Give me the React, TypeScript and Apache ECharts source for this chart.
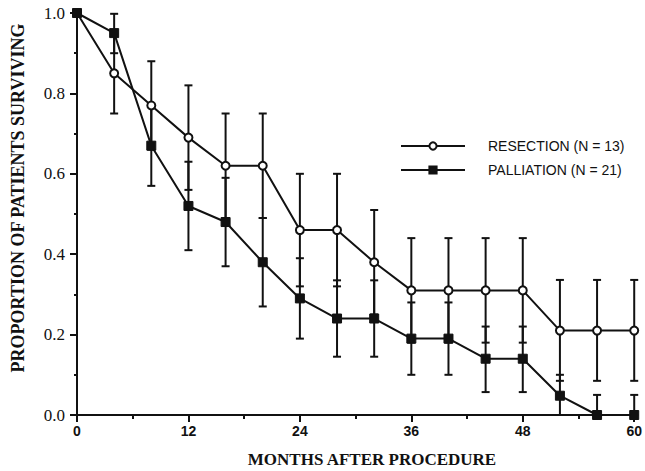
import React, { useEffect, useRef } from "react";
import * as echarts from "echarts";

const months = [0, 4, 8, 12, 16, 20, 24, 28, 32, 36, 40, 44, 48, 52, 56, 60];
const resection = [1.0, 0.85, 0.77, 0.69, 0.62, 0.62, 0.46, 0.46, 0.38, 0.31, 0.31, 0.31, 0.31, 0.21, 0.21, 0.21];
const resectionLow = [null, 0.75, 0.66, 0.56, 0.49, 0.49, 0.32, 0.32, 0.25, 0.18, 0.18, 0.18, 0.18, 0.085, 0.085, 0.085];
const resectionHigh = [null, 0.95, 0.88, 0.82, 0.75, 0.75, 0.6, 0.6, 0.51, 0.44, 0.44, 0.44, 0.44, 0.336, 0.336, 0.336];
const palliation = [1.0, 0.95, 0.67, 0.52, 0.48, 0.38, 0.29, 0.24, 0.24, 0.19, 0.19, 0.14, 0.14, 0.048, 0, 0];
const palliationLow = [null, 0.9, 0.57, 0.41, 0.37, 0.27, 0.19, 0.145, 0.145, 0.1, 0.1, 0.057, 0.057, 0, 0, 0];
const palliationHigh = [null, 0.998, 0.77, 0.63, 0.59, 0.49, 0.39, 0.335, 0.335, 0.28, 0.28, 0.22, 0.22, 0.1, 0.05, 0.05];
const xTicks = [0, 12, 24, 36, 48, 60];
const yTicks = [0, 0.2, 0.4, 0.6, 0.8, 1.0];
const xTitle = "MONTHS AFTER PROCEDURE";
const yTitle = "PROPORTION OF PATIENTS SURVIVING";
const legendNames = ["RESECTION (N = 13)", "PALLIATION (N = 21)"];

const INK = "#111";

function errData(low: (number | null)[], high: (number | null)[]) {
  const out: number[][] = [];
  months.forEach((m, i) => {
    if (low[i] != null && high[i] != null) out.push([m, low[i] as number, high[i] as number]);
  });
  return out;
}

function renderErr(params: any, api: any) {
  const x = api.value(0);
  const lo = api.coord([x, api.value(1)]);
  const hi = api.coord([x, api.value(2)]);
  const cap = 4;
  const style = { stroke: INK, lineWidth: 2 };
  return {
    type: "group",
    children: [
      { type: "line", shape: { x1: lo[0], y1: lo[1], x2: hi[0], y2: hi[1] }, style },
      { type: "line", shape: { x1: hi[0] - cap, y1: hi[1], x2: hi[0] + cap, y2: hi[1] }, style },
      { type: "line", shape: { x1: lo[0] - cap, y1: lo[1], x2: lo[0] + cap, y2: lo[1] }, style },
    ],
  };
}

export default function App() {
  const ref = useRef<HTMLDivElement>(null);
  useEffect(() => {
    if (!ref.current) return;
    const chart = echarts.init(ref.current, undefined, { renderer: "svg" });
    chart.setOption({
      animation: false,
      backgroundColor: "#fff",
      grid: { left: 77, right: 8, top: 13, bottom: 56 },
      legend: {
        orient: "vertical",
        left: 395,
        top: 134,
        itemWidth: 64,
        itemHeight: 9,
        itemGap: 10,
        textStyle: { fontFamily: "Liberation Sans", fontSize: 14, color: INK, padding: [0, 0, 0, 18] },
        data: legendNames,
      },
      graphic: [
        {
          type: "text",
          x: 372,
          y: 459,
          style: {
            text: xTitle,
            fontFamily: "Liberation Serif",
            fontWeight: "bold",
            fontSize: 17,
            fill: INK,
            textAlign: "center",
            textVerticalAlign: "middle",
          },
        },
        {
          type: "text",
          x: 18,
          y: 198,
          rotation: Math.PI / 2,
          style: {
            text: yTitle,
            fontFamily: "Liberation Serif",
            fontWeight: "bold",
            fontSize: 18,
            fill: INK,
            textAlign: "center",
            textVerticalAlign: "middle",
          },
        },
      ],
      xAxis: {
        type: "value",
        min: 0,
        max: 60,
        interval: 12,
        axisLine: { lineStyle: { color: INK, width: 2 } },
        axisTick: { length: 7, lineStyle: { color: INK, width: 2 } },
        minorTick: { show: true, splitNumber: 2, length: 4, lineStyle: { color: INK, width: 2 } },
        axisLabel: {
          margin: 9,
          fontFamily: "Liberation Sans",
          fontWeight: "bold",
          fontSize: 14,
          color: INK,
          customValues: xTicks,
        },
        splitLine: { show: false },
      },
      yAxis: {
        type: "value",
        min: 0,
        max: 1,
        interval: 0.2,
        axisLine: { lineStyle: { color: INK, width: 2 } },
        axisTick: { length: 7, lineStyle: { color: INK, width: 2 } },
        minorTick: { show: true, splitNumber: 2, length: 3, lineStyle: { color: INK, width: 2 } },
        axisLabel: {
          margin: 12,
          fontFamily: "Liberation Serif",
          fontSize: 17,
          color: INK,
          formatter: (v: number) => v.toFixed(1),
          customValues: yTicks,
        },
        splitLine: { show: false },
      },
      series: [
        {
          type: "custom",
          name: "resErr",
          renderItem: renderErr,
          data: errData(resectionLow, resectionHigh),
          z: 1,
          silent: true,
        },
        {
          type: "custom",
          name: "palErr",
          renderItem: renderErr,
          data: errData(palliationLow, palliationHigh),
          z: 1,
          silent: true,
        },
        {
          type: "line",
          name: legendNames[0],
          data: months.map((m, i) => [m, resection[i]]),
          symbol: "circle",
          symbolSize: 8,
          showAllSymbol: true,
          lineStyle: { color: INK, width: 2 },
          itemStyle: { color: "#fff", borderColor: INK, borderWidth: 2 },
          z: 3,
        },
        {
          type: "line",
          name: legendNames[1],
          data: months.map((m, i) => [m, palliation[i]]),
          symbol: "rect",
          symbolSize: 9,
          showAllSymbol: true,
          lineStyle: { color: INK, width: 2 },
          itemStyle: { color: INK, borderColor: INK, borderWidth: 1 },
          z: 4,
        },
      ],
    });
    return () => chart.dispose();
  }, []);
  return (
    <div
      ref={ref}
      style={{ position: "fixed", left: 0, top: 0, width: 645, height: 471 }}
    />
  );
}
